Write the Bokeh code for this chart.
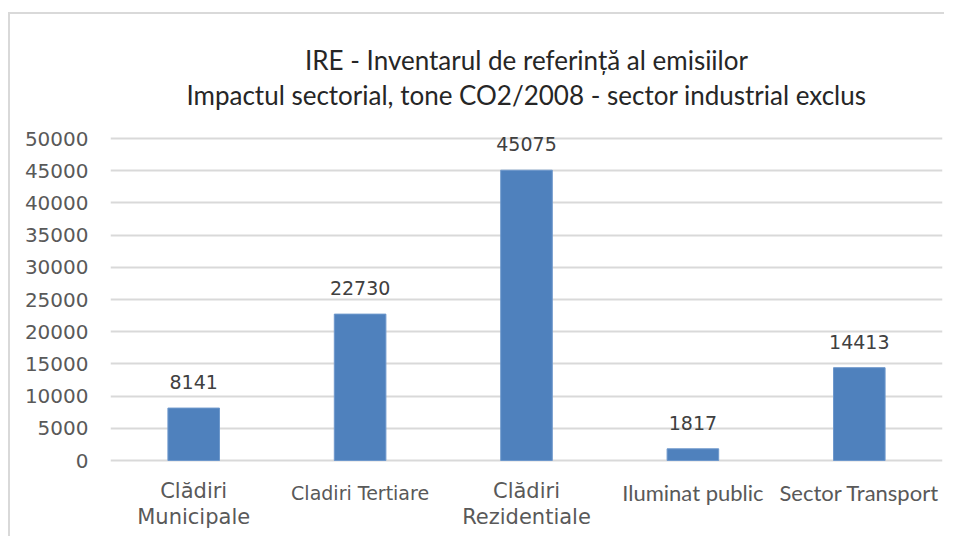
from bokeh.plotting import figure
from bokeh.models import ColumnDataSource, Range1d, FixedTicker
from bokeh.core.properties import value
from bokeh.embed import file_html
from bokeh.resources import INLINE

# ---- data ----
categories = ["Clădiri Municipale", "Cladiri Tertiare", "Clădiri Rezidentiale",
              "Iluminat public", "Sector Transport"]
emissions = [8141, 22730, 45075, 1817, 14413]
y_ticks = [0, 5000, 10000, 15000, 20000, 25000, 30000, 35000, 40000, 45000, 50000]
title_line1 = "IRE - Inventarul de referință al emisiilor"
title_line2 = "Impactul sectorial, tone CO2/2008 - sector industrial exclus"

# category label lines: (category, text, font, size, offset below zero line in px)
cat_lines = [
    (categories[0], "Clădiri", "DejaVu Sans", "21px", 30),
    (categories[0], "Municipale", "DejaVu Sans", "21px", 56),
    (categories[1], "Cladiri Tertiare", "DejaVu Sans", "19px", 32),
    (categories[2], "Clădiri", "DejaVu Sans", "21px", 30),
    (categories[2], "Rezidentiale", "DejaVu Sans", "21px", 56),
    (categories[3], "Iluminat public", "Lato", "22px", 32),
    (categories[4], "Sector Transport", "Lato", "22px", 32),
]

# ---- layout (pixels) ----
canvas_h = 524          # canvas height; frame fills it vertically
top_px, zero_px = 124, 446   # 50000 line and 0 line, measured from canvas top
ymax = y_ticks[-1]
per_px = ymax / (zero_px - top_px)
y_end = ymax + top_px * per_px
y_start = -(canvas_h - zero_px) * per_px

src = ColumnDataSource(dict(cat=categories, val=emissions,
                            lbl=[str(v) for v in emissions]))

p = figure(x_range=categories, y_range=Range1d(y_start, y_end),
           width=936, height=canvas_h, output_backend="svg", toolbar_location=None,
           min_border_left=100, min_border_right=4, min_border_top=0,
           min_border_bottom=0)
p.margin = (12, 0, 0, 8)
p.styles = {"border-left": "2px solid #d9d9d9", "border-top": "2px solid #d9d9d9"}

p.vbar(x="cat", top="val", width=0.31, source=src,
       fill_color="#4F81BD", line_color="#6E98CC", line_width=1)

p.text(x="cat", y="val", text="lbl", source=src, text_align="center",
       text_baseline="alphabetic", y_offset=-26,
       text_font=value("DejaVu Sans"), text_font_size="19px", text_color="#404040")

cat_src = ColumnDataSource(dict(
    x=[c[0] for c in cat_lines], y=[0] * len(cat_lines),
    text=[c[1] for c in cat_lines], font=[c[2] for c in cat_lines],
    size=[c[3] for c in cat_lines], yoff=[c[4] for c in cat_lines]))
p.text(x="x", y="y", text="text", source=cat_src, y_offset="yoff",
       text_font="font", text_font_size="size", text_align="center",
       text_baseline="alphabetic", text_color="#595959")

center_cat = categories[len(categories) // 2]
p.text(x=[center_cat, center_cat], y=[ymax, ymax], text=[title_line1, title_line2],
       y_offset=[-79, -44], text_align="center", text_baseline="alphabetic",
       text_font=value("Lato"), text_font_size="26px", text_color="#262626")

p.xaxis.visible = False
p.yaxis.ticker = FixedTicker(ticks=y_ticks)
p.yaxis.axis_line_color = None
p.yaxis.major_tick_line_color = None
p.yaxis.minor_tick_line_color = None
p.yaxis.major_tick_out = 0
p.yaxis.major_tick_in = 0
p.yaxis.major_label_standoff = 22
p.yaxis.major_label_text_font = "DejaVu Sans"
p.yaxis.major_label_text_font_size = "20px"
p.yaxis.major_label_text_color = "#595959"

p.xgrid.grid_line_color = None
p.ygrid.grid_line_color = "#d9d9d9"
p.ygrid.grid_line_width = 2
p.outline_line_color = None

open("out.html", "w").write(file_html(p, INLINE))
